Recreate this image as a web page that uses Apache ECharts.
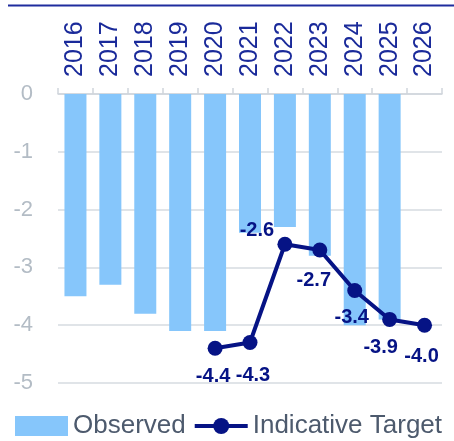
<!DOCTYPE html>
<html>
<head>
<meta charset="utf-8">
<script src="https://cdn.jsdelivr.net/npm/echarts@6/dist/echarts.min.js"></script>
<style>
  html, body { margin: 0; padding: 0; background: #ffffff; }
  #chart { width: 454px; height: 441px; }
</style>
</head>
<body>
<div id="chart"></div>
<script>
// Fiscal balance path: observed outturns and the indicative target (% of GDP)
const years = ['2016', '2017', '2018', '2019', '2020', '2021', '2022', '2023', '2024', '2025', '2026'];
const observed = [-3.5, -3.3, -3.8, -4.1, -4.1, -2.4, -2.3, -2.8, -4.0, -3.9, null];
const target = [null, null, null, null, -4.4, -4.3, -2.6, -2.7, -3.4, -3.9, -4.0];
const yTicks = [0, -1, -2, -3, -4, -5];

// Where each target label sits relative to its point
const targetLabelOffsets = [null, null, null, null, [-2, 28], [3, 33], [-28, -14], [-6, 30], [-3, 27], [-9, 28], [-3, 31]];

const FONT = '"Liberation Sans", Arial, sans-serif';
const NAVY = '#061385';

const targetData = target.map((v, i) => {
  if (v === null) return null;
  return {
    value: v,
    label: { show: true, position: 'inside', offset: targetLabelOffsets[i] }
  };
});

const chart = echarts.init(document.getElementById('chart'), null, { renderer: 'canvas' });
chart.setOption({
  animation: false,
  backgroundColor: '#ffffff',
  graphic: [{
    type: 'line',
    shape: { x1: 8, y1: 5.5, x2: 454, y2: 5.5 },
    style: { stroke: '#1f2c9e', lineWidth: 2 }
  }],
  grid: { left: 58, right: 12, top: 94, bottom: 58, containLabel: false },
  legend: {
    left: 15,
    top: 413,
    padding: 0,
    itemWidth: 53,
    itemHeight: 20,
    itemGap: 7,
    textStyle: { fontFamily: FONT, fontSize: 26, color: '#4d5a6d' },
    data: [
      { name: 'Observed', icon: 'rect' },
      { name: 'Indicative Target', lineStyle: { width: 4, color: NAVY } }
    ]
  },
  xAxis: {
    type: 'category',
    position: 'top',
    data: years,
    axisLine: { show: true, lineStyle: { color: '#d0d5dc', width: 1.5 } },
    axisTick: { show: true, length: 6, lineStyle: { color: '#d0d5dc', width: 1.5 } },
    axisLabel: {
      rotate: 90,
      margin: 17,
      fontFamily: FONT,
      fontSize: 25,
      color: '#1a2a9a'
    },
    splitLine: { show: false }
  },
  yAxis: {
    type: 'value',
    min: -5,
    max: 0,
    interval: 1,
    axisLine: { show: false },
    axisTick: { show: false },
    axisLabel: {
      margin: 25,
      fontFamily: FONT,
      fontSize: 22,
      color: '#b3bcc5',
      formatter: v => (yTicks.indexOf(v) >= 0 ? String(v) : '')
    },
    splitLine: { lineStyle: { color: '#d6dbe1', width: 1.5 } }
  },
  series: [
    {
      name: 'Observed',
      type: 'bar',
      data: observed,
      barWidth: 22,
      itemStyle: { color: '#86c6fb' },
      z: 2
    },
    {
      name: 'Indicative Target',
      type: 'line',
      data: targetData,
      symbol: 'circle',
      symbolSize: 15,
      lineStyle: { color: NAVY, width: 4 },
      itemStyle: { color: NAVY },
      label: {
        fontFamily: FONT,
        fontSize: 20,
        fontWeight: 'bold',
        color: NAVY,
        formatter: p => p.value.toFixed(1)
      },
      z: 3
    }
  ]
});
</script>
</body>
</html>
